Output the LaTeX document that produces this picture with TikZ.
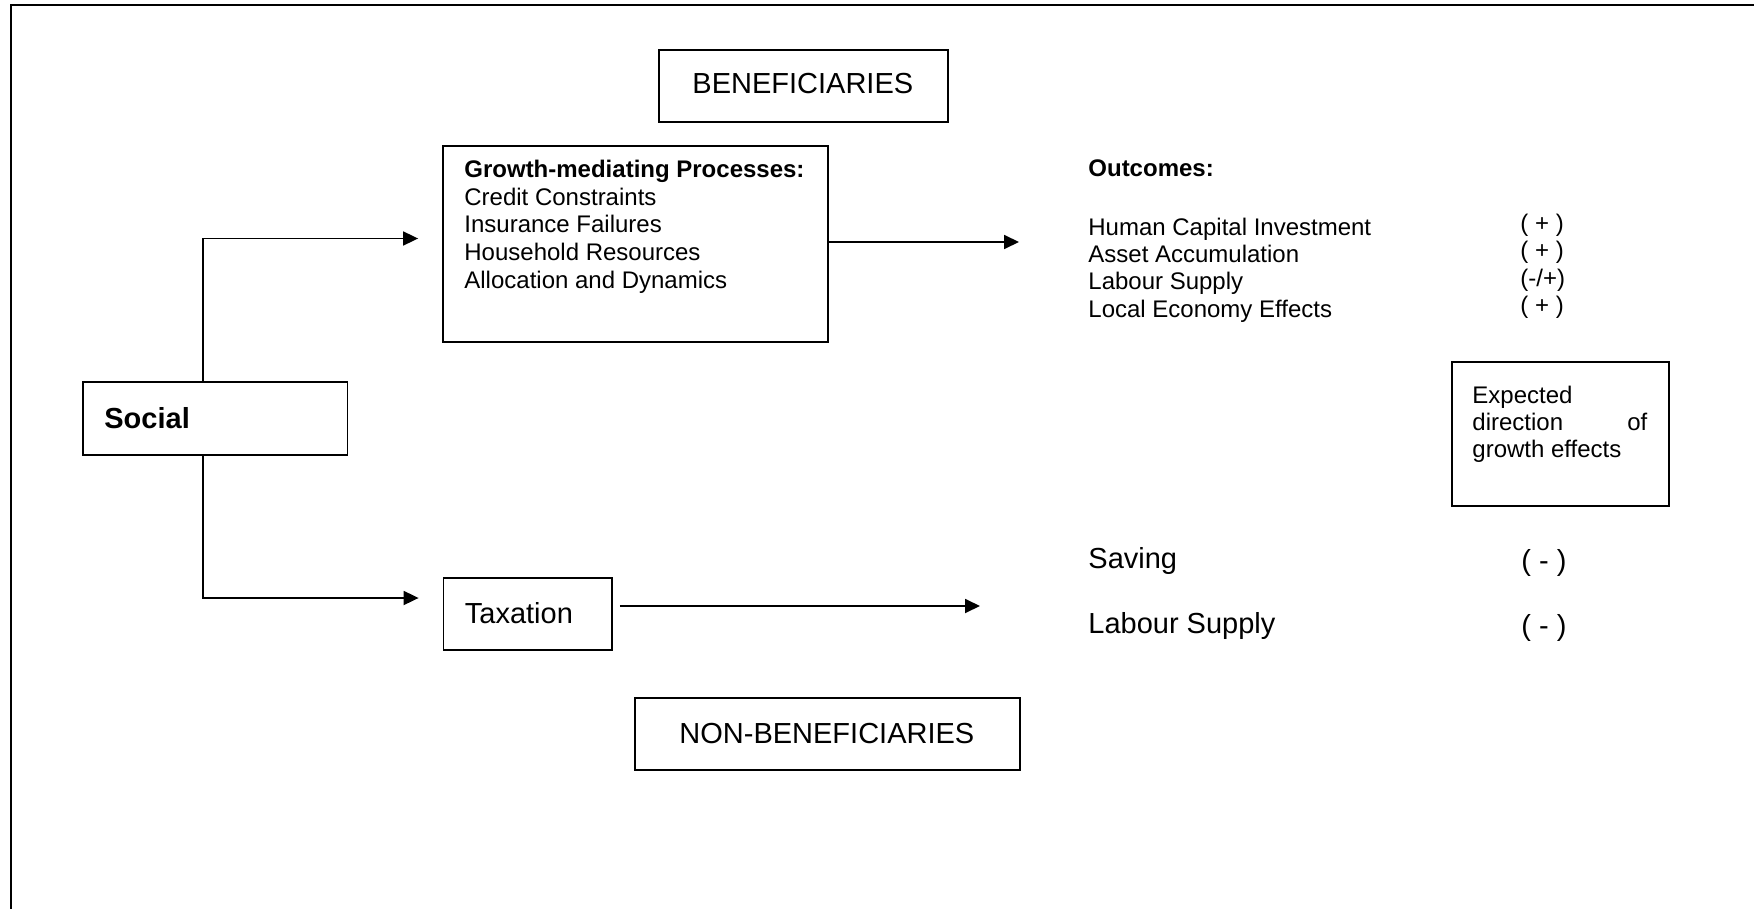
\documentclass[tikz,border=0pt]{standalone}
\usepackage{fontspec}
\setmainfont{Liberation Sans}
\usetikzlibrary{arrows.meta}
\begin{document}
\begin{tikzpicture}[x=0.5pt,y=-0.5pt,
  box/.style={draw, line width=0.9pt, inner sep=0pt},
  txt/.style={anchor=base west, inner sep=0pt, font=\fontsize{12pt}{13.75pt}\selectfont},
  bigtxt/.style={anchor=base west, inner sep=0pt, font=\fontsize{14.5pt}{17pt}\selectfont},
  arr/.style={line width=0.9pt, -{Triangle[length=7.5pt,width=7pt]}},
  frame/.style={line width=1pt}]
\useasboundingbox (0,0) rectangle (1754,909);
% outer frame (open at right and bottom)
\draw[frame] (1754,5) -- (10.5,5) -- (10.5,909);

% boxes
\node[box, minimum width=144.5pt, minimum height=36pt] (benef) at (803.5,86) {};
\node[box, minimum width=192.5pt, minimum height=98pt] (growth) at (635.5,244) {};
\node[box, minimum width=132.25pt, minimum height=36.5pt] (social) at (215.25,418.5) {};
\node[box, minimum width=84.25pt, minimum height=36pt] (tax) at (527.75,614) {};
\node[box, minimum width=192.5pt, minimum height=36pt] (nonben) at (827.5,734) {};
\node[box, minimum width=108.5pt, minimum height=72pt] (expected) at (1560.5,434) {};

% texts
\node[bigtxt] (tbenef) at (692,94) {BENEFICIARIES};
\node[txt, font=\fontsize{12pt}{13.75pt}\selectfont\bfseries] (g0) at (464,178) {Growth-mediating Processes:};
\node[txt] (g1) at (464,205.5) {Credit Constraints};
\node[txt] (g2) at (464,233) {Insurance Failures};
\node[txt] (g3) at (464,260.5) {Household Resources};
\node[txt] (g4) at (464,288) {Allocation and Dynamics};

\node[txt, font=\fontsize{12pt}{13.75pt}\selectfont\bfseries] (out) at (1088,177) {Outcomes:};
\node[txt] (o1) at (1088,235) {Human Capital Investment};
\node[txt] (o2) at (1088,262.3) {Asset Accumulation};
\node[txt] (o3) at (1088,289.6) {Labour Supply};
\node[txt] (o4) at (1088,317) {Local Economy Effects};
\node[txt] (s1) at (1520,231.5) {( + )};
\node[txt] (s2) at (1520,258.8) {( + )};
\node[txt] (s3) at (1520,286) {(-/+)};
\node[txt] (s4) at (1520,313.3) {( + )};

\node[txt] (e1) at (1472,403) {Expected};
\node[txt] (e2) at (1472,430) {\makebox[87.5pt][l]{direction\hfill of}};
\node[txt] (e3) at (1472,457) {growth effects};

\node[bigtxt, font=\fontsize{14.5pt}{17pt}\selectfont\bfseries] (tsocial) at (104,428) {Social};
\node[bigtxt] (ttax) at (464.5,623) {Taxation};
\node[bigtxt] (tnonben) at (679,743) {NON-BENEFICIARIES};

\node[bigtxt] (sav) at (1088,568) {Saving};
\node[bigtxt] (lab) at (1088,633) {Labour Supply};
\node[bigtxt] (m1) at (1521,570) {( - )};
\node[bigtxt] (m2) at (1521,635) {( - )};

% connector geometry
\coordinate (sx) at (203,0);
\coordinate (outtip) at (1019,0);
\coordinate (taxtip) at (980,606);

% connectors
\draw[arr, shorten >=12pt] (social.north -| sx) |- ([yshift=2.75pt]growth.west);
\draw[arr] ([yshift=1pt]growth.east) -- ([yshift=1pt]growth.east -| outtip);
\draw[arr, shorten >=12pt] (social.south -| sx) |- ([yshift=8pt]tax.west);
\draw[arr, shorten <=3.5pt] (tax.east |- taxtip) -- (taxtip);
\end{tikzpicture}
\end{document}
